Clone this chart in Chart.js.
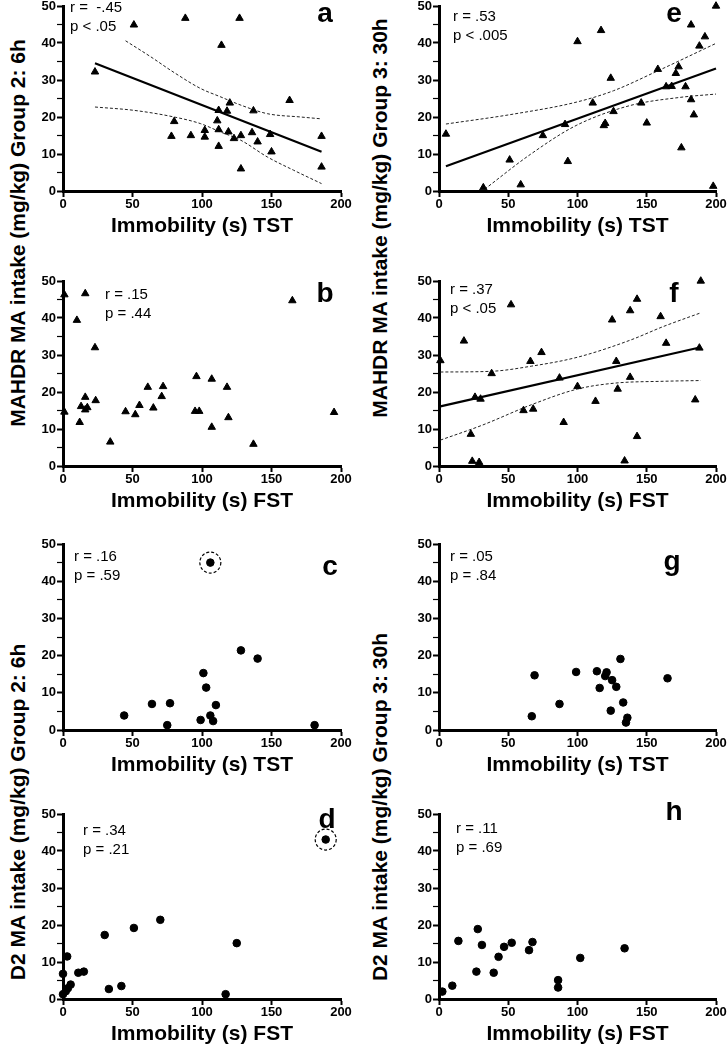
<!DOCTYPE html>
<html>
<head>
<meta charset="utf-8">
<script src="https://cdn.jsdelivr.net/npm/chart.js@4.4.1/dist/chart.umd.min.js"></script>
<style>
  html, body { margin: 0; padding: 0; background: #fff; overflow: hidden; }
  body { width: 728px; height: 1050px; position: relative; }
  canvas { position: absolute; }
  .ytitle {
    position: absolute; white-space: nowrap;
    font: bold 21px "Liberation Sans", Arial, sans-serif; color: #000;
    transform: translate(-50%, -50%) rotate(-90deg);
  }
</style>
</head>
<body>
<div class="ytitle" style="left:18px; top:233px">MAHDR MA intake (mg/kg) Group 2: 6h</div>
<div class="ytitle" style="left:380px; top:218px">MAHDR MA intake (mg/kg) Group 3: 30h</div>
<div class="ytitle" style="left:18px; top:812px">D2 MA intake (mg/kg) Group 2: 6h</div>
<div class="ytitle" style="left:380px; top:807px">D2 MA intake (mg/kg) Group 3: 30h</div>
<script>
// axis ticks
const xTicks = [0, 50, 100, 150, 200];
const yTicks = [0, 10, 20, 30, 40, 50];

// a: MAHDR group 2 vs TST
const aImm = [51, 88, 127, 114, 23, 163, 120, 112, 118, 137, 80, 111, 102, 112, 78, 92, 102, 119, 128, 123, 136, 149, 140, 112, 150, 186, 128, 186];
const aIntake = [44.9, 46.7, 46.7, 39.4, 32.2, 24.5, 23.8, 21.8, 21.6, 21.7, 18.8, 19.0, 16.4, 16.6, 14.8, 15.0, 14.6, 16.0, 15.0, 14.2, 15.8, 15.3, 13.3, 12.1, 10.6, 14.8, 6.0, 6.5];
const aFitX = [23, 186], aFitY = [34.5, 10.6];
const aUpX = [45, 63, 80, 99, 113, 128, 147, 171, 186];
const aUpY = [40.6, 36.3, 32.0, 27.7, 25.5, 23.2, 20.9, 20.0, 19.5];
const aLoX = [23, 51, 80, 99, 113, 128, 147, 166, 186];
const aLoY = [22.7, 21.8, 20.0, 18.2, 16.0, 13.7, 9.2, 5.6, 2.0];

// e: MAHDR group 3 vs TST
const eImm = [5, 32, 51, 59, 75, 91, 93, 100, 111, 117, 119, 120, 124, 126, 146, 150, 158, 164, 168, 171, 173, 178, 175, 182, 182, 184, 188, 192, 200, 198];
const eIntake = [15.4, 0.9, 8.4, 1.7, 15.0, 18.0, 8.0, 40.4, 23.8, 43.4, 17.7, 18.3, 30.5, 21.5, 23.8, 18.4, 32.9, 28.2, 28.3, 31.8, 33.6, 28.2, 11.7, 44.9, 24.7, 20.6, 39.2, 41.7, 50.0, 1.3];
const eFitX = [5, 200], eFitY = [6.7, 33.1];
const eUpX = [5, 54, 99, 126, 157, 200], eUpY = [18.1, 20.8, 24.0, 27.1, 32.3, 39.9];
const eLoX = [33, 66, 99, 138, 174, 200], eLoY = [0.5, 9.9, 17.7, 23.1, 25.3, 26.2];

// b: MAHDR group 2 vs FST
const bImm = [1, 16, 10, 23, 1, 12, 13, 16, 17.5, 16, 23.5, 34, 45, 52, 55, 61, 65, 71, 72, 96, 95, 98, 107, 107, 118, 119, 137, 195, 165];
const bIntake = [46.3, 46.6, 39.4, 32.0, 14.6, 11.8, 16.1, 18.6, 15.8, 15.2, 17.7, 6.5, 14.7, 13.9, 16.4, 21.3, 15.7, 18.8, 21.5, 24.2, 14.8, 14.8, 23.5, 10.5, 21.3, 13.1, 5.9, 14.5, 44.7];

// f: MAHDR group 3 vs FST
const fImm = [189, 52, 143, 138, 125, 160, 18, 164, 188, 1, 66, 74, 128, 38, 87, 138, 100, 129, 26, 30, 113, 185, 61, 68, 90, 23, 143, 24, 29, 134];
const fIntake = [50.0, 43.6, 45.1, 42.0, 39.5, 40.4, 33.8, 33.2, 31.9, 28.5, 28.3, 30.7, 28.3, 25.0, 23.8, 24.0, 21.5, 20.8, 18.6, 18.1, 17.5, 17.9, 15.0, 15.4, 11.8, 8.6, 8.0, 1.3, 1.0, 1.4];
const fFitX = [1, 189], fFitY = [16.1, 32.1];
const fUpX = [1, 38, 67, 100, 138, 162, 189], fUpY = [25.4, 25.6, 27.0, 29.4, 34.0, 37.7, 41.4];
const fLoX = [1, 31, 67, 100, 127, 162, 189], fLoY = [7.0, 11.0, 16.6, 20.8, 22.4, 22.9, 23.1];

// c: D2 group 2 vs TST
const cImm = [44, 64, 77, 75, 101, 103, 99, 106, 108, 110, 128, 140, 181];
const cIntake = [3.9, 7.0, 7.2, 1.3, 15.3, 11.4, 2.7, 3.9, 2.4, 6.7, 21.4, 19.2, 1.3];
const cOutImm = [106], cOutIntake = [45.0];

// g: D2 group 3 vs TST
const gImm = [67, 69, 87, 99, 114, 116, 120, 121, 125, 124, 128, 131, 133, 136, 135, 165];
const gIntake = [3.7, 14.7, 7.0, 15.6, 15.8, 11.3, 14.5, 15.5, 13.4, 5.2, 11.6, 19.1, 7.4, 3.3, 2.0, 13.9];

// d: D2 group 2 vs FST
const dImm = [70, 51, 30, 125, 3, 0, 11, 15, 5.5, 3.5, 2, 0, 33, 42, 117];
const dIntake = [21.4, 19.2, 17.3, 15.1, 11.5, 6.8, 7.1, 7.4, 3.9, 2.9, 2.1, 1.3, 2.7, 3.5, 1.3];
const dOutImm = [189], dOutIntake = [43.1];

// h: D2 group 3 vs FST
const hImm = [2.4, 9.6, 14, 28, 27, 31, 39.5, 43, 47, 52.5, 65, 67.5, 86, 86, 102, 134];
const hIntake = [2.0, 3.6, 15.7, 18.9, 7.4, 14.6, 7.1, 11.4, 14.1, 15.2, 13.2, 15.4, 5.1, 3.1, 11.1, 13.7];

// layout of plot areas on the page
const colLeft = [63, 439], colRight = [341, 716];
const rowTop = [6, 281, 544, 814], rowBottom = [191, 466, 730, 999];
const PAD_L = 45, PAD_T = 12, PAD_R = 18, PAD_B = 48;

Chart.defaults.font.family = '"Liberation Sans", Arial, sans-serif';
Chart.defaults.color = '#000';

function pts(xs, ys) {
    return xs.map((x, i) => ({x: x, y: ys[i]}));
}

const panels = [
    {letter: 'a', col: 0, row: 0, xs: aImm, ys: aIntake, marker: 'triangle', xTitle: 'Immobility (s) TST',
     fit: [aFitX, aFitY], up: [aUpX, aUpY], lo: [aLoX, aLoY], r: 'r =  -.45', p: 'p < .05', txt: [7, 2], let: [262, 16]},
    {letter: 'e', col: 1, row: 0, xs: eImm, ys: eIntake, marker: 'triangle', xTitle: 'Immobility (s) TST',
     fit: [eFitX, eFitY], up: [eUpX, eUpY], lo: [eLoX, eLoY], r: 'r = .53', p: 'p < .005', txt: [14, 11], let: [235, 16]},
    {letter: 'b', col: 0, row: 1, xs: bImm, ys: bIntake, marker: 'triangle', xTitle: 'Immobility (s) FST',
     r: 'r = .15', p: 'p = .44', txt: [42, 14], let: [262, 21]},
    {letter: 'f', col: 1, row: 1, xs: fImm, ys: fIntake, marker: 'triangle', xTitle: 'Immobility (s) FST',
     fit: [fFitX, fFitY], up: [fUpX, fUpY], lo: [fLoX, fLoY], r: 'r = .37', p: 'p < .05', txt: [11, 9], let: [235, 21]},
    {letter: 'c', col: 0, row: 2, xs: cImm, ys: cIntake, marker: 'circle', xTitle: 'Immobility (s) TST',
     out: [cOutImm, cOutIntake], r: 'r = .16', p: 'p = .59', txt: [11, 13], let: [267, 31]},
    {letter: 'g', col: 1, row: 2, xs: gImm, ys: gIntake, marker: 'circle', xTitle: 'Immobility (s) TST',
     r: 'r = .05', p: 'p = .84', txt: [11, 13], let: [233, 26]},
    {letter: 'd', col: 0, row: 3, xs: dImm, ys: dIntake, marker: 'circle', xTitle: 'Immobility (s) FST',
     out: [dOutImm, dOutIntake], r: 'r = .34', p: 'p = .21', txt: [20, 17], let: [264, 14]},
    {letter: 'h', col: 1, row: 3, xs: hImm, ys: hIntake, marker: 'circle', xTitle: 'Immobility (s) FST',
     r: 'r = .11', p: 'p = .69', txt: [17, 15], let: [235, 6]}
];

// r/p text, panel letter, dashed ring around the outlier
const panelText = {
    id: 'panelText',
    beforeDatasetDraw(chart, args) {
        if (chart.data.datasets[args.index].dashRing) {
            chart.ctx.save();
            chart.ctx.setLineDash([3, 2]);
        }
    },
    afterDatasetDraw(chart, args) {
        if (chart.data.datasets[args.index].dashRing) chart.ctx.restore();
    },
    afterDraw(chart, args, o) {
        const ctx = chart.ctx, a = chart.chartArea;
        ctx.save();
        ctx.fillStyle = '#000';
        ctx.font = '15px "Liberation Sans", Arial, sans-serif';
        ctx.textBaseline = 'middle';
        ctx.textAlign = 'left';
        ctx.fillText(o.r, a.left + o.txt[0], a.top + o.txt[1]);
        ctx.fillText(o.p, a.left + o.txt[0], a.top + o.txt[1] + 19);
        ctx.font = 'bold 28px "Liberation Sans", Arial, sans-serif';
        ctx.textAlign = 'center';
        ctx.textBaseline = 'alphabetic';
        ctx.fillText(o.letter, a.left + o.let[0], a.top + o.let[1]);
        ctx.restore();
    }
};

for (const p of panels) {
    const cl = colLeft[p.col], cr = colRight[p.col];
    const ct = rowTop[p.row], cb = rowBottom[p.row];
    const canvas = document.createElement('canvas');
    canvas.width = (cr - cl) + PAD_L + PAD_R;
    canvas.height = (cb - ct) + PAD_T + PAD_B;
    canvas.style.left = (cl - PAD_L) + 'px';
    canvas.style.top = (ct - PAD_T) + 'px';
    document.body.appendChild(canvas);

    const datasets = [{
        data: pts(p.xs, p.ys),
        pointStyle: p.marker,
        pointRadius: p.marker === 'triangle' ? 4.3 : 3.8,
        backgroundColor: '#000',
        borderColor: '#000',
        borderWidth: 1,
        clip: false,
        order: 0
    }];
    if (p.fit) {
        datasets.push({
            data: pts(p.fit[0], p.fit[1]), showLine: true, pointRadius: 0,
            borderColor: '#000', borderWidth: 2.2, clip: false, order: 1
        });
        for (const band of [p.up, p.lo]) {
            datasets.push({
                data: pts(band[0], band[1]), showLine: true, pointRadius: 0,
                cubicInterpolationMode: 'monotone',
                borderColor: '#222', borderWidth: 1, borderDash: [3, 2], clip: false, order: 2
            });
        }
    }
    if (p.out) {
        datasets.push({
            data: pts(p.out[0], p.out[1]),
            pointStyle: 'circle', pointRadius: 3.8, backgroundColor: '#000', borderColor: '#000',
            clip: false, order: 0
        });
        datasets.push({
            data: pts(p.out[0], p.out[1]), dashRing: true,
            pointStyle: 'circle', pointRadius: 10.5, backgroundColor: 'rgba(0,0,0,0)',
            borderColor: '#000', borderWidth: 1.2, clip: false, order: 1
        });
    }

    new Chart(canvas, {
        type: 'scatter',
        data: {datasets: datasets},
        options: {
            responsive: false,
            animation: false,
            events: [],
            layout: {padding: {top: PAD_T, right: PAD_R, left: 0, bottom: 0}},
            plugins: {
                legend: {display: false},
                tooltip: {enabled: false},
                panelText: {r: p.r, p: p.p, txt: p.txt, letter: p.letter, let: p.let}
            },
            scales: {
                x: {
                    type: 'linear', min: xTicks[0], max: xTicks[xTicks.length - 1],
                    afterFit: s => { s.height = PAD_B; },
                    afterBuildTicks: s => { s.ticks = xTicks.map(v => ({value: v})); },
                    ticks: {color: '#000', font: {size: 13, weight: 'bold'}, padding: 0, maxRotation: 0, autoSkip: false},
                    grid: {drawOnChartArea: false, drawTicks: true, tickLength: 6, tickWidth: 2, tickColor: '#000'},
                    border: {display: true, color: '#000', width: 3},
                    title: {display: true, text: p.xTitle, color: '#000', font: {size: 21, weight: 'bold'}, padding: 0}
                },
                y: {
                    type: 'linear', min: yTicks[0], max: yTicks[yTicks.length - 1],
                    afterFit: s => { s.width = PAD_L; },
                    afterBuildTicks: s => {
                        const list = [];
                        for (let i = 0; i < yTicks.length; i++) {
                            list.push({value: yTicks[i]});
                            if (i < yTicks.length - 1) list.push({value: (yTicks[i] + yTicks[i + 1]) / 2});
                        }
                        s.ticks = list;
                    },
                    ticks: {
                        color: '#000', font: {size: 13, weight: 'bold'}, padding: 1, autoSkip: false,
                        callback: v => yTicks.includes(v) ? v : ''
                    },
                    grid: {
                        drawOnChartArea: false, drawTicks: true, tickLength: 6,
                        tickWidth: c => yTicks.includes(c.tick.value) ? 2 : 1.2,
                        tickColor: '#000'
                    },
                    border: {display: true, color: '#000', width: 3}
                }
            }
        },
        plugins: [panelText]
    });
}
</script>
</body>
</html>
